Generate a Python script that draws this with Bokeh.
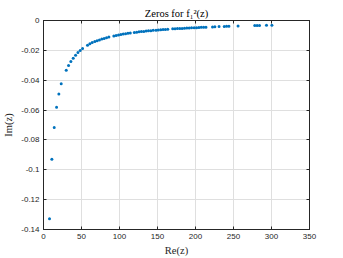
from bokeh.plotting import figure
from bokeh.models import Range1d, LinearAxis, FixedTicker, Title
from bokeh.embed import file_html
from bokeh.resources import INLINE

re_z = [7.9, 11.0, 14.1, 17.2, 20.2, 23.3, 29.9, 33.0, 36.0, 39.1, 42.2, 45.3, 48.3, 51.4,
        57.9, 61.0, 64.1, 67.5, 70.5, 73.6, 76.7, 79.8, 82.9, 86.0,
        92.5, 95.6, 98.7, 101.8, 104.9, 108.0, 111.1, 114.2,
        119.5, 122.6, 125.7, 128.8, 131.9, 135.0, 138.1, 141.2, 144.3,
        148.0, 151.1, 154.2, 157.3, 160.4, 163.5,
        170.0, 173.1, 176.2, 179.3, 182.4, 185.5, 188.6, 191.7, 194.8,
        198.3, 201.4, 204.5, 207.6, 210.7, 213.8, 222.4, 225.5, 231.0,
        237.8, 240.9, 244.0, 256.0, 278.0, 281.1, 284.2, 293.4, 300.5]
im_z = [-0.1328, -0.0930, -0.0716, -0.0581, -0.0492, -0.0423, -0.0333, -0.0302, -0.0275,
        -0.0253, -0.0233, -0.0215, -0.0201, -0.0188,
        -0.0166, -0.0156, -0.0148, -0.0141, -0.0135, -0.0130, -0.0124, -0.0120, -0.0115, -0.0111,
        -0.0104, -0.0100, -0.0097, -0.0094, -0.0091, -0.0089, -0.0086, -0.0084,
        -0.0080, -0.0078, -0.0076, -0.0074, -0.0073, -0.0071, -0.0069, -0.0068, -0.0066,
        -0.0065, -0.0063, -0.0062, -0.0061, -0.0060, -0.0059,
        -0.0056, -0.0055, -0.0054, -0.0053, -0.0053, -0.0052, -0.0051, -0.0050, -0.0049,
        -0.0048, -0.0048, -0.0047, -0.0046, -0.0046, -0.0045, -0.0043, -0.0042, -0.0041,
        -0.0040, -0.0039, -0.0039, -0.0037, -0.0034, -0.0034, -0.0033, -0.0032, -0.0031]

x_ticks = [0, 50, 100, 150, 200, 250, 300, 350]
y_ticks = [0, -0.02, -0.04, -0.06, -0.08, -0.1, -0.12, -0.14]
y_tick_labels = ["0", "-0.02", "-0.04", "-0.06", "-0.08", "-0.1", "-0.12", "-0.14"]

AX = "#262626"
GRID = "#dfdfdf"
TICKFONT = "Liberation Sans"
SERIF = "Liberation Serif"

p = figure(frame_width=266, frame_height=209, output_backend="svg", toolbar_location=None,
           x_range=Range1d(0, 350), y_range=Range1d(-0.14, 0),
           min_border_left=38, min_border_right=10, min_border_top=20, min_border_bottom=0,
           background_fill_color="white", border_fill_color="white")

p.title = Title(text="Zeros for f\u2081\u00b2(z)", align="center", text_font=SERIF,
                text_font_size="10.5px", text_font_style="normal", text_color="black",
                offset=0, standoff=3)

p.outline_line_color = AX
p.outline_line_width = 1

p.scatter(re_z, im_z, size=3, color="#0072BD", line_color=None)

for ax in (p.xaxis[0], p.yaxis[0]):
    ax.major_tick_in = 3
    ax.major_tick_out = 0
    ax.minor_tick_line_color = None
    ax.axis_line_color = AX
    ax.major_tick_line_color = AX
    ax.major_label_text_font = TICKFONT
    ax.major_label_text_font_size = "8px"
    ax.major_label_text_color = AX
    ax.axis_label_text_font = SERIF
    ax.axis_label_text_font_size = "10.5px"
    ax.axis_label_text_font_style = "normal"
    ax.axis_label_text_color = AX

p.xaxis[0].ticker = FixedTicker(ticks=x_ticks)
p.yaxis[0].ticker = FixedTicker(ticks=y_ticks)
p.yaxis[0].major_label_overrides = {t: l for t, l in zip(y_ticks, y_tick_labels)}
p.xaxis[0].axis_label = "Re(z)"
p.yaxis[0].axis_label = "Im(z)"
p.xaxis[0].major_label_standoff = 4
p.yaxis[0].major_label_standoff = 4
p.xaxis[0].axis_label_standoff = 3
p.yaxis[0].axis_label_standoff = 4

top = LinearAxis(ticker=FixedTicker(ticks=x_ticks),
                 major_label_overrides={t: "" for t in x_ticks},
                 major_tick_in=3, major_tick_out=0, minor_tick_line_color=None,
                 axis_line_color=AX, major_tick_line_color=AX, major_label_standoff=0)
right = LinearAxis(ticker=FixedTicker(ticks=y_ticks),
                   major_label_overrides={t: "" for t in y_ticks},
                   major_tick_in=3, major_tick_out=0, minor_tick_line_color=None,
                   axis_line_color=AX, major_tick_line_color=AX, major_label_standoff=0)
p.add_layout(top, "above")
p.add_layout(right, "right")

p.xgrid.ticker = FixedTicker(ticks=x_ticks)
p.ygrid.ticker = FixedTicker(ticks=y_ticks)
p.grid.grid_line_color = GRID
p.grid.grid_line_width = 1

open("out.html", "w").write(file_html(p, INLINE))
